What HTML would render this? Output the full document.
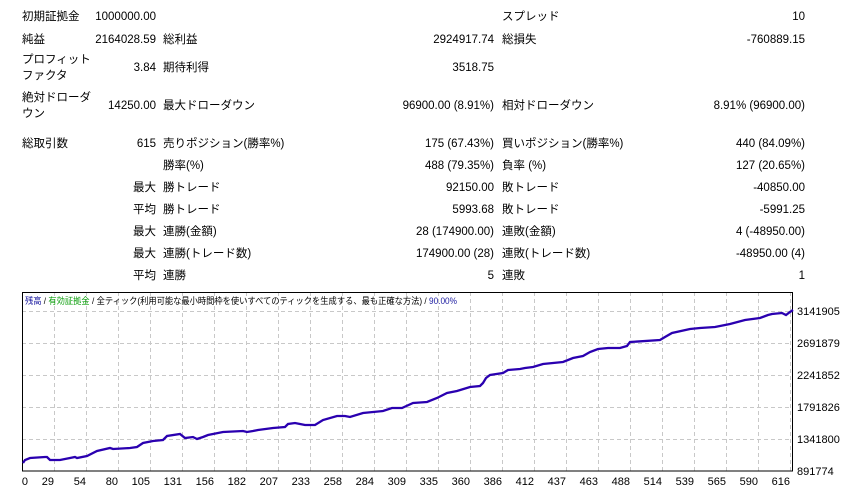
<!DOCTYPE html>
<html><head><meta charset="utf-8"><style>
body{margin:0;width:861px;height:497px;background:#fff;position:relative;overflow:hidden;font-family:"Liberation Sans","Noto Sans CJK JP",sans-serif;font-size:11.5px;color:#000}
.t{position:absolute;white-space:nowrap;line-height:14px}
.r{text-align:right}
</style></head><body>
<div class="t" style="left:22px;top:10px">初期証拠金</div>
<div class="t r" style="right:705px;top:10px">1000000.00</div>
<div class="t" style="left:502px;top:10px">スプレッド</div>
<div class="t r" style="right:56px;top:10px">10</div>

<div class="t" style="left:22px;top:33px">純益</div>
<div class="t r" style="right:705px;top:33px">2164028.59</div>
<div class="t" style="left:163px;top:33px">総利益</div>
<div class="t r" style="right:367px;top:33px">2924917.74</div>
<div class="t" style="left:502px;top:33px">総損失</div>
<div class="t r" style="right:56px;top:33px">-760889.15</div>

<div class="t" style="left:22px;top:53px">プロフィット</div>
<div class="t" style="left:22px;top:69px">ファクタ</div>
<div class="t r" style="right:705px;top:61px">3.84</div>
<div class="t" style="left:163px;top:61px">期待利得</div>
<div class="t r" style="right:367px;top:61px">3518.75</div>

<div class="t" style="left:22px;top:91px">絶対ドローダ</div>
<div class="t" style="left:22px;top:107px">ウン</div>
<div class="t r" style="right:705px;top:99px">14250.00</div>
<div class="t" style="left:163px;top:99px">最大ドローダウン</div>
<div class="t r" style="right:367px;top:99px">96900.00 (8.91%)</div>
<div class="t" style="left:502px;top:99px">相対ドローダウン</div>
<div class="t r" style="right:56px;top:99px">8.91% (96900.00)</div>

<div class="t" style="left:22px;top:137px">総取引数</div>
<div class="t r" style="right:705px;top:137px">615</div>
<div class="t" style="left:163px;top:137px">売りポジション(勝率%)</div>
<div class="t r" style="right:367px;top:137px">175 (67.43%)</div>
<div class="t" style="left:502px;top:137px">買いポジション(勝率%)</div>
<div class="t r" style="right:56px;top:137px">440 (84.09%)</div>

<div class="t" style="left:163px;top:159px">勝率(%)</div>
<div class="t r" style="right:367px;top:159px">488 (79.35%)</div>
<div class="t" style="left:502px;top:159px">負率 (%)</div>
<div class="t r" style="right:56px;top:159px">127 (20.65%)</div>

<div class="t r" style="right:705px;top:181px">最大</div>
<div class="t" style="left:163px;top:181px">勝トレード</div>
<div class="t r" style="right:367px;top:181px">92150.00</div>
<div class="t" style="left:502px;top:181px">敗トレード</div>
<div class="t r" style="right:56px;top:181px">-40850.00</div>

<div class="t r" style="right:705px;top:203px">平均</div>
<div class="t" style="left:163px;top:203px">勝トレード</div>
<div class="t r" style="right:367px;top:203px">5993.68</div>
<div class="t" style="left:502px;top:203px">敗トレード</div>
<div class="t r" style="right:56px;top:203px">-5991.25</div>

<div class="t r" style="right:705px;top:225px">最大</div>
<div class="t" style="left:163px;top:225px">連勝(金額)</div>
<div class="t r" style="right:367px;top:225px">28 (174900.00)</div>
<div class="t" style="left:502px;top:225px">連敗(金額)</div>
<div class="t r" style="right:56px;top:225px">4 (-48950.00)</div>

<div class="t r" style="right:705px;top:247px">最大</div>
<div class="t" style="left:163px;top:247px">連勝(トレード数)</div>
<div class="t r" style="right:367px;top:247px">174900.00 (28)</div>
<div class="t" style="left:502px;top:247px">連敗(トレード数)</div>
<div class="t r" style="right:56px;top:247px">-48950.00 (4)</div>

<div class="t r" style="right:705px;top:269px">平均</div>
<div class="t" style="left:163px;top:269px">連勝</div>
<div class="t r" style="right:367px;top:269px">5</div>
<div class="t" style="left:502px;top:269px">連敗</div>
<div class="t r" style="right:56px;top:269px">1</div>

<svg width="861" height="497" style="position:absolute;left:0;top:0" xmlns="http://www.w3.org/2000/svg">
<g stroke="#c8c8c8" stroke-dasharray="4,3" stroke-width="1">
<path d="M22 311.5H793M22 343.5H793M22 375.5H793M22 407.5H793M22 439.5H793"/>
<path d="M54.5 292V471M86.5 292V471M118.5 292V471M150.5 292V471M182.5 292V471M214.5 292V471M246.5 292V471M278.5 292V471M310.5 292V471M342.5 292V471M374.5 292V471M406.5 292V471M438.5 292V471M470.5 292V471M502.5 292V471M534.5 292V471M566.5 292V471M598.5 292V471M630.5 292V471M662.5 292V471M694.5 292V471M726.5 292V471M758.5 292V471M790.5 292V471"/>
</g>
<rect x="22.5" y="292.5" width="770" height="178.5" fill="none" stroke="#000" stroke-width="1"/>
<polyline fill="none" stroke="#2a00b0" stroke-width="2.3" points="23,463 25,460 30,458 45,457 47,457 50,460 60,460 70,458 75,457 77,458 87,456 97,451 110,448 113,449 130,448 137,447 143,443 153,441 163,440 167,436 180,434 185,438 193,437 197,439 203,437 208,435 223,432 243,431 247,432 253,431 258,430 273,428 285,427 288,424 295,423 300,424 305,425 315,425 323,420 337,416 345,416 350,417 363,413 383,411 392,408 402,408 413,403 427,402 437,398 447,393 457,391 470,387 480,386 483,383 486,378 490,375 503,373 508,370 520,369 525,368 533,367 543,364 553,363 563,362 573,358 583,356 590,352 598,349 608,348 620,348 627,346 630,342 660,340 665,337 672,333 690,329 700,328 715,327 730,324 745,320 760,318 768,315 772,314 782,313 786,315 790,312 793,310"/>
<g font-family="Liberation Sans, sans-serif" font-size="11" fill="#000">
<text x="797" y="315">3141905</text>
<text x="797" y="347">2691879</text>
<text x="797" y="379">2241852</text>
<text x="797" y="411">1791826</text>
<text x="797" y="443">1341800</text>
<text x="797" y="475">891774</text>
</g>
<g font-family="Liberation Sans, sans-serif" font-size="11" fill="#000" text-anchor="end">
<text x="28" y="485">0</text><text x="54" y="485">29</text><text x="86" y="485">54</text><text x="118" y="485">80</text><text x="150" y="485">105</text><text x="182" y="485">131</text><text x="214" y="485">156</text><text x="246" y="485">182</text><text x="278" y="485">207</text><text x="310" y="485">233</text><text x="342" y="485">258</text><text x="374" y="485">284</text><text x="406" y="485">309</text><text x="438" y="485">335</text><text x="470" y="485">360</text><text x="502" y="485">386</text><text x="534" y="485">412</text><text x="566" y="485">437</text><text x="598" y="485">463</text><text x="630" y="485">488</text><text x="662" y="485">514</text><text x="694" y="485">539</text><text x="726" y="485">565</text><text x="758" y="485">590</text><text x="790" y="485">616</text>
</g>
<text x="25" y="304" font-family="Liberation Sans, Noto Sans CJK JP, sans-serif" font-size="9" textLength="432" lengthAdjust="spacingAndGlyphs"><tspan fill="#1a1aa0">残高</tspan><tspan fill="#000"> / </tspan><tspan fill="#10a010">有効証拠金</tspan><tspan fill="#000"> / 全ティック(利用可能な最小時間枠を使いすべてのティックを生成する、最も正確な方法) / </tspan><tspan fill="#1a1aa0">90.00%</tspan></text>
</svg>
</body></html>
